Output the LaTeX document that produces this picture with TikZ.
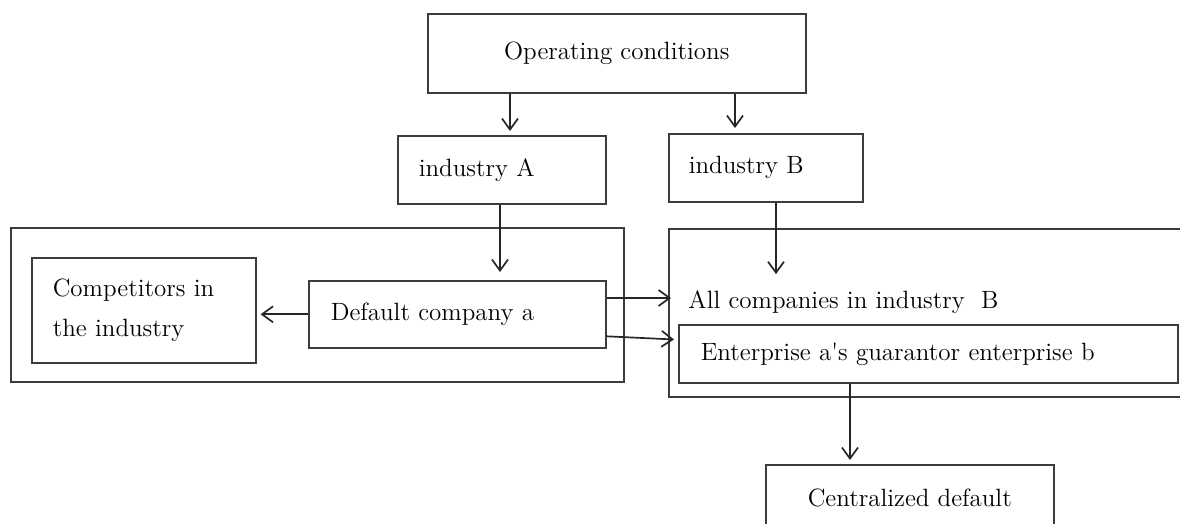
\documentclass[tikz,border=0pt]{standalone}
\usepackage{tikz}
\definecolor{boxline}{RGB}{60, 60, 60}
\usetikzlibrary{arrows.meta, calc}
\tikzset{
    blockbox/.style={draw=boxline, line width=.8pt, inner sep=0pt,
        font=\fontsize{12.5}{15}\selectfont, anchor=north west},
    groupbox/.style={draw=boxline, line width=.8pt, inner sep=0pt,
        anchor=north west},
    flow/.style={draw=black!85, line width=.85pt,
        -{Straight Barb[length=5.5pt, width=8pt, line width=.85pt]}},
}

\begin{document}
\begin{tikzpicture}[x=.5pt, y=-.5pt]
            \path[use as bounding box, clip] (0, 0) rectangle (1180, 524);
            % outer group boxes
            \node[groupbox, minimum width=306.5pt, minimum height=77pt]
                (groupA) at (10, 227) {};
            \node[groupbox, minimum width=270pt, minimum height=84pt]
                (groupB) at (668, 228) {};
            % blocks
            \node[blockbox, minimum width=189pt, minimum height=39.5pt]
                (opcond) at (427, 13) {Operating conditions};
            \node[blockbox, minimum height=34pt, inner xsep=10.5pt,
                text width=83pt, align=left] (indA) at (397, 135)
                {industry A};
            \node[blockbox, minimum height=34pt, inner xsep=10pt,
                text width=77pt, align=left] (indB) at (668, 133)
                {industry B};
            \node[blockbox, minimum height=52.5pt, inner xsep=10.5pt,
                text width=91pt, align=left,
                font=\fontsize{12.5}{20}\selectfont] (comp) at (31, 257)
                {Competitors in\\the industry};
            \node[blockbox, minimum height=33.5pt, inner xsep=11pt,
                text width=126.5pt, align=left] (defA) at (308, 280)
                {Default company a};
            \node[font=\fontsize{12.5}{15}\selectfont, anchor=west,
                inner sep=0pt] (allB) at (688, 302)
                {All companies in industry\ \ B};
            \node[blockbox, minimum height=29pt, inner xsep=11pt,
                text width=227.5pt, align=left] (ent) at (678, 324)
                {Enterprise a\textquotesingle s guarantor enterprise b};
            \node[blockbox, minimum width=144pt, minimum height=33pt]
                (central) at (765, 464) {Centralized default};
            % free ends
            \coordinate (allBin) at (671, 298);
            \coordinate (entIn) at (674, 339.5);
            % connectors
            \draw[flow] (opcond.south -| 510, 0) -- (510, 131);
            \draw[flow] (opcond.south -| 735, 0) -- (indB.north -| 735, 0)
                [shorten >=2.5pt];
            \draw[flow, shorten >=4pt] (indA.south -| 500, 0)
                -- (defA.north -| 500, 0);
            \draw[flow, shorten >=8pt] (indB.south -| 776, 0)
                -- (allB.north -| 776, 0);
            \draw[flow, shorten >=2pt] (defA.west) -- (defA.west -| comp.east);
            \draw[flow] (defA.east |- allBin) -- (allBin);
            \draw[flow] ([yshift=-11pt]defA.east) -- (entIn);
            \draw[flow, shorten >=2pt] (ent.south -| 850, 0)
                -- (central.north -| 850, 0);
        \end{tikzpicture}
\end{document}
